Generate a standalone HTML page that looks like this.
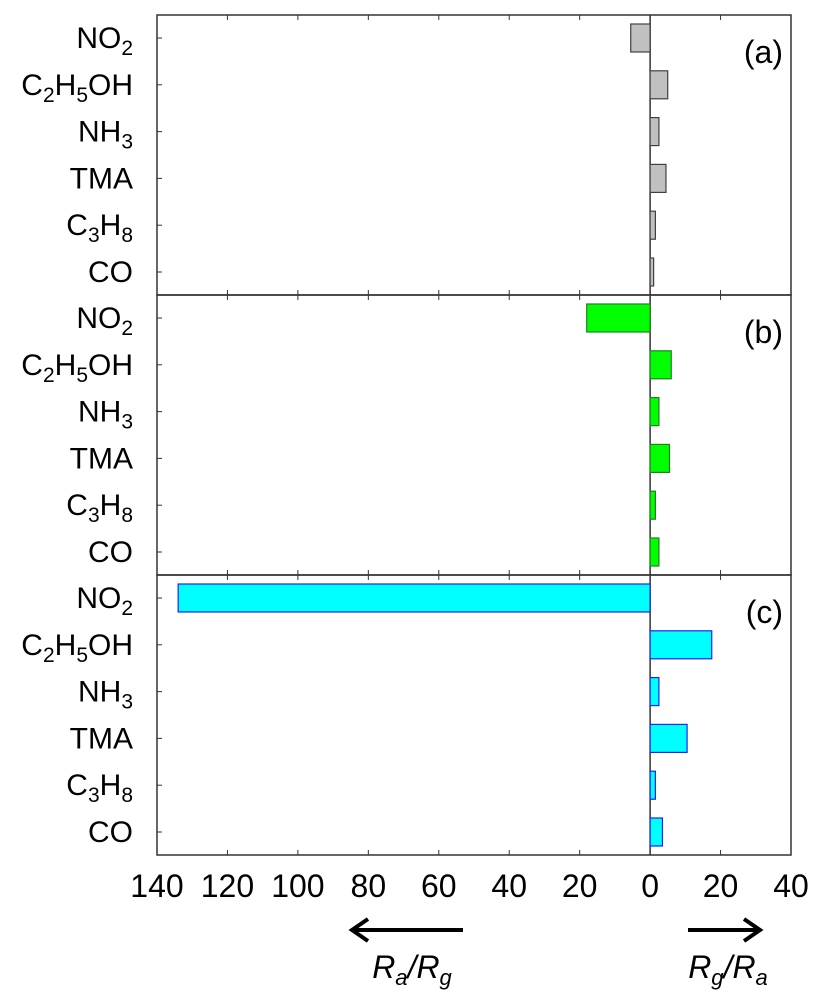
<!DOCTYPE html>
<html><head><meta charset="utf-8"><style>
body{margin:0;background:#fff}
svg text{font-family:"Liberation Sans",Arial,sans-serif;fill:#000}
</style></head><body>
<svg id="chart" width="813" height="1000" viewBox="0 0 813 1000">
</svg>
<script>
const categories = ["NO2","C2H5OH","NH3","TMA","C3H8","CO"];
const labelHtml = [["NO","2",""],["C","2","H","5","OH"],["NH","3",""],["TMA"],["C","3","H","8",""],["CO"]];
const panelLabels = ["(a)","(b)","(c)"];
const seriesA = [-5.5, 5, 2.5, 4.5, 1.5, 1];
const seriesB = [-18, 6, 2.5, 5.5, 1.5, 2.5];
const seriesC = [-134, 17.5, 2.5, 10.5, 1.5, 3.5];
const xTicks = [-140,-120,-100,-80,-60,-40,-20,0,20,40];
const xTickLabels = ["140","120","100","80","60","40","20","0","20","40"];

const svg = document.getElementById('chart');
const NS = 'http://www.w3.org/2000/svg';
const L=157, R=791, TOP=15, PH=280;
const xMin=-140, xMax=40;
const x = v => L + (v - xMin) / (xMax - xMin) * (R - L);
const yCat = (p, i) => TOP + p*PH + 23 + i*46.8;
function el(tag, attrs){const e=document.createElementNS(NS,tag);for(const k in attrs)e.setAttribute(k,attrs[k]);svg.appendChild(e);return e;}

const panels = [
  {data: seriesA, fill:"#c0c0c0", stroke:"#404040"},
  {data: seriesB, fill:"#00ff00", stroke:"#208020"},
  {data: seriesC, fill:"#00ffff", stroke:"#2020ff"}
];
panels.forEach((p, pi) => {
  const py = TOP + pi*PH;
  const frame = el('rect',{x:L,y:py,width:R-L,height:PH,fill:'none',stroke:'#333','stroke-width':1.5});
  
  
  xTicks.forEach(t => {
    if (t===xMin||t===xMax) return;
    const a = el('line',{x1:x(t),x2:x(t),y1:py,y2:py+5,stroke:'#333','stroke-width':1});
    
    
    const b = el('line',{x1:x(t),x2:x(t),y1:py+PH,y2:py+PH-5,stroke:'#333','stroke-width':1});
    
    
  });
  const zl = el('line',{x1:x(0),x2:x(0),y1:py,y2:py+PH,stroke:'#333','stroke-width':1.5});
  
  
  p.data.forEach((v, i) => {
    const cy = yCat(pi, i);
    const tk = el('line',{x1:L,x2:L+5,y1:cy,y2:cy,stroke:'#333','stroke-width':1});
    
    
    const x0 = Math.min(x(0), x(v)), w = Math.abs(x(v)-x(0));
    const bar = el('rect',{x:x0,y:cy-14,width:w,height:28,fill:p.fill,stroke:p.stroke,'stroke-width':1.2});
    
    
    const t = el('text',{x:133,y:cy+10,'text-anchor':'end','font-size':30});
    
    
    labelHtml[i].forEach((s, k) => {
      if (!s) return;
      const ts = document.createElementNS(NS,'tspan');
      ts.textContent = s;
      if (k % 2 === 1) { ts.setAttribute('font-size','21'); ts.setAttribute('dy','7'); }
      else if (k > 0) { ts.setAttribute('dy','-7'); }
      t.appendChild(ts);
    });
  });
  const pl = el('text',{x:783,y:py+48,'text-anchor':'end','font-size':32});
  pl.textContent = panelLabels[pi];
  
  
});
xTicks.forEach((t, i) => {
  const tl = el('text',{x:x(t),y:897,'text-anchor':'middle','font-size':32});
  tl.textContent = xTickLabels[i];
  
  
});
</script>
<svg width="813" height="1000" style="position:absolute;left:0;top:0">
  <g stroke="#000" stroke-width="4" fill="none">
    <line x1="463" y1="930" x2="352" y2="930"/>
    <polyline points="368,919 352,930 368,941"/>
  </g>
  <g stroke="#000" stroke-width="4" fill="none">
    <line x1="688" y1="930" x2="760" y2="930"/>
    <polyline points="744,919 760,930 744,941"/>
  </g>
  <text x="412" y="978" text-anchor="middle" font-size="32" font-style="italic" font-family="Liberation Sans, sans-serif">R<tspan font-size="22" dy="7">a</tspan><tspan dy="-7">/R</tspan><tspan font-size="22" dy="7">g</tspan></text>
  <text x="728" y="978" text-anchor="middle" font-size="32" font-style="italic" font-family="Liberation Sans, sans-serif">R<tspan font-size="22" dy="7">g</tspan><tspan dy="-7">/R</tspan><tspan font-size="22" dy="7">a</tspan></text>
</svg>
</body></html>
